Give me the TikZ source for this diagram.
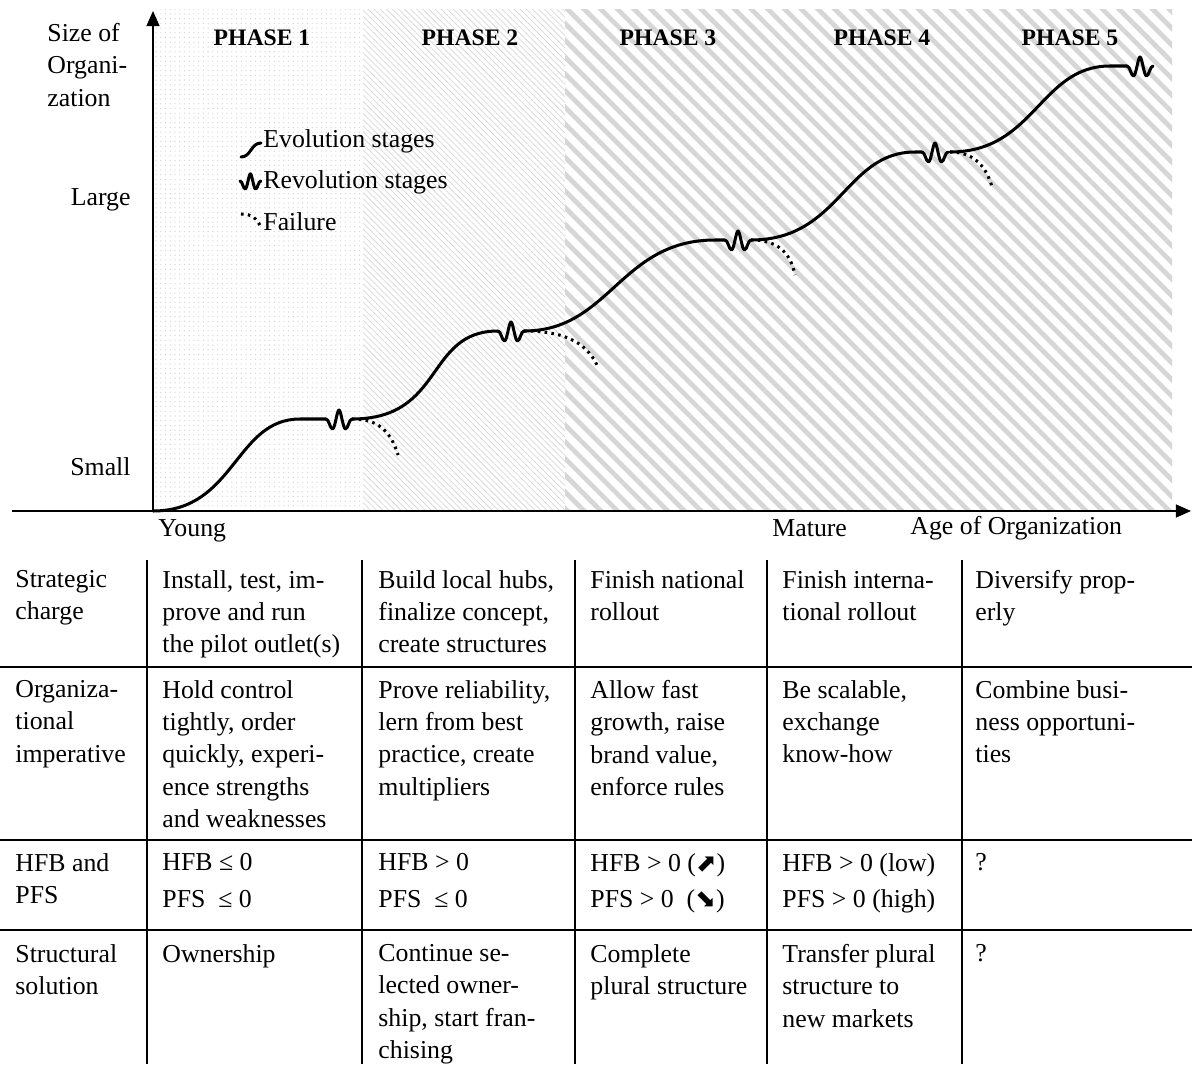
\documentclass[tikz,border=0pt]{standalone}
\usepackage{fontspec}
\setmainfont{Liberation Serif}
\newfontfamily\arrowfont{DejaVu Sans}
\usetikzlibrary{arrows.meta, patterns.meta}

\newcommand\txtsize{\fontsize{12}{15}\selectfont}
\newcommand\bigarrow[1]{{\arrowfont\fontsize{11.5}{12}\selectfont #1}}

\begin{document}
\begin{tikzpicture}[
  x=0.4651pt, y=-0.4651pt,
  axis/.style={line width=0.75pt, -{Triangle[length=7pt, width=6pt]}},
  curve/.style={line width=1.4pt, line cap=round, line join=round},
  failure/.style={line width=1.4pt, dash pattern=on 1.2pt off 2pt},
  rule/.style={line width=1pt},
  phase/.style={inner sep=0pt, font=\fontsize{11}{13}\selectfont\bfseries},
  axlabel/.style={inner sep=0pt, font=\txtsize},
  cell/.style={anchor=north west, inner sep=0pt, align=left, font=\txtsize},
  legend/.style={anchor=west, inner sep=0pt, font=\txtsize},
  revol/.pic={\draw[curve] (0,0) .. controls (3,0) and (4,10) .. (6.5,10)
      .. controls (9,10) and (11,-9) .. (13,-9)
      .. controls (15,-9) and (17,10) .. (19.5,10)
      .. controls (22,10) and (23,0) .. (26,0);},
]
\useasboundingbox (0,0) rectangle (1192,1064);
\fill[white] (0,0) rectangle (1192,1064);

% phase backgrounds
\path[pattern={Dots[radius=0.3pt, distance=2.2pt]}, pattern color=gray!35]
  (155,10) rectangle (363,511);
\path[pattern={Lines[angle=-45, distance=2pt, line width=0.35pt]}, pattern color=gray!30]
  (363,10) rectangle (565,511);
\path[pattern={Lines[angle=-45, distance=5.5pt, line width=2.2pt]}, pattern color=black!16]
  (565,10) rectangle (1172,511);

% axes
\coordinate (O)    at (153,511);
\coordinate (xbeg) at (12,511);
\coordinate (xend) at (1191,511);
\coordinate (yend) at (153,11);
\draw[axis] (xbeg) -- (xend);
\draw[axis] (O) -- (yend);

\node[cell] (size) at (47,23) {Size of\\Organi-\\zation};
\node[axlabel, anchor=east] (large) at (131,200) {Large};
\node[axlabel, anchor=east] (small) at (131,467) {Small};
\node[axlabel, anchor=west] (young) at (158,531) {Young};
\node[axlabel, anchor=west] (mature) at (772,528) {Mature};
\node[axlabel, anchor=west] (age) at (910,528) {Age of Organization};

\foreach \x/\n in {262/1, 470/2, 668/3, 882/4, 1070/5}
  \node[phase] (ph\n) at (\x,38) {PHASE \n};

% legend
\node[legend] (evo)  at (263,141) {Evolution stages};
\node[legend] (rev)  at (263,182) {Revolution stages};
\node[legend] (fail) at (263,222) {Failure};
\draw[curve] (241,157) .. controls (251,157) and (251,143) .. (261,143);
\pic[scale=0.8] at (240,181) {revol};
\draw[failure] (241,214) .. controls (252,214) and (256,218) .. (261,227);

% evolution stages
\draw[curve] (O) .. controls (235,511) and (235,419) .. (300,419) -- (326,419);
\draw[curve] (352,419) .. controls (445,419) and (425,331) .. (498,331);
\draw[curve] (524,331) .. controls (610,331) and (620,240) .. (715,240) -- (725,240);
\draw[curve] (751,240) .. controls (840,240) and (845,152) .. (915,152) -- (922,152);
\draw[curve] (950,152) .. controls (1035,152) and (1040,66) .. (1110,66) -- (1127,66);

% revolution stages
\foreach \x/\y in {326/419, 498/331, 725/240, 922/152, 1127/66}
  \pic at (\x,\y) {revol};

% failures
\draw[failure] (352,419) .. controls (375,419) and (390,428) .. (398,455);
\draw[failure] (524,331) .. controls (560,331) and (585,340) .. (597,365);
\draw[failure] (751,240) .. controls (775,240) and (790,250) .. (795,275);
\draw[failure] (950,152) .. controls (970,152) and (985,162) .. (992,187);

% table
\foreach \x in {147, 362, 575, 767, 962}
  \draw[rule] (\x,560) -- (\x,1064);
\foreach \y in {667, 840, 930}
  \draw[rule] (0,\y) -- (1192,\y);

\node[cell] (charge)  at (15,570)  {Strategic\\charge};
\node[cell] (charge1) at (162,570) {Install, test, im-\\prove and run\\the pilot outlet(s)};
\node[cell] (charge2) at (378,570) {Build local hubs,\\finalize concept,\\create structures};
\node[cell] (charge3) at (590,570) {Finish national\\rollout};
\node[cell] (charge4) at (782,570) {Finish interna-\\tional rollout};
\node[cell] (charge5) at (975,570) {Diversify prop-\\erly};

\node[cell] (imper)  at (15,680)  {Organiza-\\tional\\imperative};
\node[cell] (imper1) at (162,680) {Hold control\\tightly, order\\quickly, experi-\\ence strengths\\and weaknesses};
\node[cell] (imper2) at (378,680) {Prove reliability,\\lern from best\\practice, create\\multipliers};
\node[cell] (imper3) at (590,680) {Allow fast\\growth, raise\\brand value,\\enforce rules};
\node[cell] (imper4) at (782,680) {Be scalable,\\exchange\\know-how};
\node[cell] (imper5) at (975,680) {Combine busi-\\ness opportuni-\\ties};

\node[cell] (hfb)  at (15,853)  {HFB and\\PFS};
\node[cell] (hfb1) at (162,853) {HFB ≤ 0\\[2pt]PFS \ ≤ 0};
\node[cell] (hfb2) at (378,853) {HFB > 0\\[2pt]PFS \ ≤ 0};
\node[cell] (hfb3) at (590,853) {HFB > 0 (\bigarrow{⬈})\\[2pt]PFS > 0 \ (\bigarrow{⬊})};
\node[cell] (hfb4) at (782,853) {HFB > 0 (low)\\[2pt]PFS > 0 (high)};
\node[cell] (hfb5) at (975,853) {?};

\node[cell] (sol)  at (15,944)  {Structural\\solution};
\node[cell] (sol1) at (162,944) {Ownership};
\node[cell] (sol2) at (378,944) {Continue se-\\lected owner-\\ship, start fran-\\chising};
\node[cell] (sol3) at (590,944) {Complete\\plural structure};
\node[cell] (sol4) at (782,944) {Transfer plural\\structure to\\new markets};
\node[cell] (sol5) at (975,944) {?};
\end{tikzpicture}
\end{document}
